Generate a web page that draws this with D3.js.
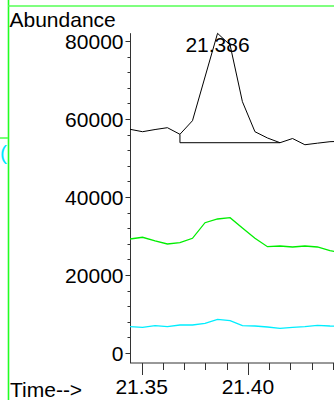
<!DOCTYPE html>
<html>
<head>
<meta charset="utf-8">
<script src="https://cdn.jsdelivr.net/npm/d3@7"></script>
<style>
  html, body { margin: 0; padding: 0; background: #fff; }
  svg { display: block; font-family: "Liberation Sans", Arial, sans-serif; }
</style>
</head>
<body>
<svg id="chart" width="334" height="400"></svg>
<script>
// ---- data ----
const times = [21.3445, 21.3504, 21.3563, 21.3621, 21.3680, 21.3739, 21.3798, 21.3857, 21.3916,
               21.3974, 21.4033, 21.4092, 21.4151, 21.4210, 21.4268, 21.4327, 21.4386, 21.4445];
const seriesBlack = [57360, 56740, 57300, 57770, 56080, 59560, 70770, 81970, 78970,
                     64440, 56740, 55130, 53920, 55000, 53400, 53800, 54180, 54300];
const seriesGreen = [29230, 29670, 28720, 27950, 28280, 29410, 33410, 34360, 34690,
                     32050, 29410, 27260, 27440, 27180, 27440, 27180, 26230, 25640];
const seriesCyan  = [6740, 6590, 7000, 6740, 7180, 7180, 7620, 8640, 8280,
                     7000, 6920, 6670, 6330, 6590, 6740, 7100, 6920, 6850];
const baselineStartIndex = 4;
const baselineEndIndex = 12;
const peakIndex = 7;
const peakLabel = "21.386";
const yTickValues = [0, 20000, 40000, 60000, 80000];
const xTickValues = [21.35, 21.40];
const yLabel = "Abundance";
const xLabel = "Time-->";

// ---- scales ----
const svg = d3.select("#chart");
const x = d3.scaleLinear().domain([21.3445, 21.4405]).range([130, 334]);
const y = d3.scaleLinear().domain([0, 80000]).range([353, 41]);

// frame decorations
svg.append("line").attr("x1", 8.5).attr("x2", 8.5).attr("y1", 0).attr("y2", 400)
  .attr("stroke", "#22ff22").attr("stroke-width", 1.6);
svg.append("line").attr("x1", 8).attr("x2", 334).attr("y1", 6).attr("y2", 6)
  .attr("stroke", "#55ff55").attr("stroke-width", 1.6);
svg.append("line").attr("x1", 0).attr("x2", 8).attr("y1", 138).attr("y2", 138)
  .attr("stroke", "#55ff55").attr("stroke-width", 1.6);
svg.append("text").attr("x", 0).attr("y", 160).attr("font-size", 21)
  .attr("fill", "#00e5ff").text("(");

// ---- y axis ----
const yAxisG = svg.append("g").attr("transform", "translate(130.5,0)");
yAxisG.append("line").attr("x1", 0).attr("x2", 0).attr("y1", y(82000)).attr("y2", 363)
  .attr("stroke", "#333").attr("stroke-width", 1);
const yMinor = d3.range(0, 80001, 4000);
yAxisG.selectAll("line.minor").data(yMinor).join("line")
  .attr("class", "minor")
  .attr("x1", d => yTickValues.includes(d) ? -5 : -3).attr("x2", 0)
  .attr("y1", d => Math.round(y(d)) + 0.5).attr("y2", d => Math.round(y(d)) + 0.5)
  .attr("stroke", "#333").attr("stroke-width", 1);
yAxisG.selectAll("text").data(yTickValues).join("text")
  .attr("x", -7).attr("y", d => y(d)).attr("dy", "0.36em")
  .attr("text-anchor", "end").attr("font-size", 21).attr("fill", "#000")
  .text(d => d3.format("d")(d));

// ---- x axis ----
const xAxisG = svg.append("g").attr("transform", "translate(0,363)");
xAxisG.append("line").attr("x1", 130).attr("x2", 334).attr("y1", 0).attr("y2", 0)
  .attr("stroke", "#333").attr("stroke-width", 1);
const xMinor = d3.range(21.35, 21.441, 0.01).map(v => +v.toFixed(2));
xAxisG.selectAll("line.tick").data(xMinor).join("line")
  .attr("class", "tick")
  .attr("x1", d => Math.round(x(d)) + 0.5).attr("x2", d => Math.round(x(d)) + 0.5)
  .attr("y1", 0).attr("y2", d => xTickValues.includes(d) ? 12 : 7)
  .attr("stroke", "#333").attr("stroke-width", 1);
xAxisG.selectAll("text").data(xTickValues).join("text")
  .attr("x", d => x(d)).attr("y", 31)
  .attr("text-anchor", "middle").attr("font-size", 21).attr("fill", "#000")
  .text(d => d.toFixed(2));

// axis titles
svg.append("text").attr("x", 9.5).attr("y", 27).attr("font-size", 21).attr("fill", "#000").text(yLabel);
svg.append("text").attr("x", 10).attr("y", 397).attr("font-size", 21).attr("fill", "#000").text(xLabel);

// ---- series ----
const line = d3.line().x((d, i) => x(times[i])).y(d => y(d));
const clip = svg.append("clipPath").attr("id", "plotclip")
  .append("rect").attr("x", 130).attr("y", 0).attr("width", 204).attr("height", 362);
const plot = svg.append("g").attr("clip-path", "url(#plotclip)");

plot.append("path").datum(seriesCyan).attr("d", line)
  .attr("fill", "none").attr("stroke", "#00eeff").attr("stroke-width", 1.3);
plot.append("path").datum(seriesGreen).attr("d", line)
  .attr("fill", "none").attr("stroke", "#00ee00").attr("stroke-width", 1.3);
plot.append("path").datum(seriesBlack).attr("d", line)
  .attr("fill", "none").attr("stroke", "#000").attr("stroke-width", 1);

// integration baseline
const baseVal = seriesBlack[baselineEndIndex];
const bx0 = x(times[baselineStartIndex]);
const bx1 = x(times[baselineEndIndex]);
plot.append("path")
  .attr("d", `M${bx0},${y(seriesBlack[baselineStartIndex])}L${bx0},${y(baseVal)}L${bx1},${y(baseVal)}`)
  .attr("fill", "none").attr("stroke", "#000").attr("stroke-width", 1);

// peak label
svg.append("text").attr("x", x(times[peakIndex])).attr("y", 52)
  .attr("text-anchor", "middle").attr("font-size", 21).attr("fill", "#000").text(peakLabel);
</script>
</body>
</html>
